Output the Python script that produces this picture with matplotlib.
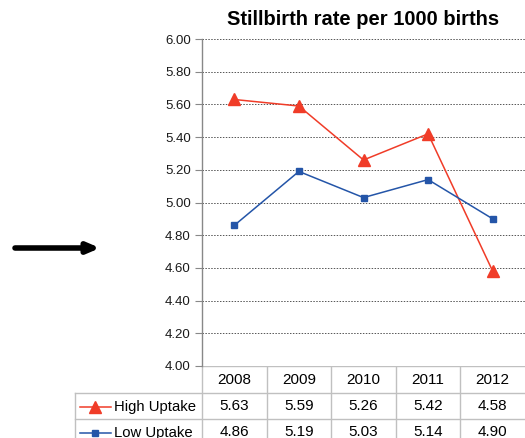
import matplotlib.pyplot as plt
from matplotlib import transforms

plt.rcParams["font.family"] = ["Liberation Sans", "DejaVu Sans"]

years = ["2008", "2009", "2010", "2011", "2012"]
high_uptake = [5.63, 5.59, 5.26, 5.42, 4.58]
low_uptake = [4.86, 5.19, 5.03, 5.14, 4.90]
y_ticks = [4.0, 4.2, 4.4, 4.6, 4.8, 5.0, 5.2, 5.4, 5.6, 5.8, 6.0]

red = "#f03c28"
blue = "#2455a8"
grid_col = "#c0c0c0"

W, H = 525, 438
fig = plt.figure(figsize=(5.25, 4.38), dpi=100)
fig.set_facecolor("white")

# overlay in pixel coords for table lines / arrow
ov = fig.add_axes([0, 0, 1, 1])
ov.set_xlim(0, W)
ov.set_ylim(H, 0)
ov.axis("off")

left, right, top, bottom = 202, 525, 39, 366
ax = fig.add_axes([left / W, (H - bottom) / H, (right - left) / W, (bottom - top) / H])

x = list(range(len(years)))
ax.plot(x, high_uptake, color=red, lw=1.1, marker="^", ms=9, zorder=5)
ax.plot(x, low_uptake, color=blue, lw=1.1, marker="s", ms=5, zorder=5)

ax.set_xlim(-0.5, len(years) - 0.5)
ax.set_ylim(4.0, 6.0)
ax.set_yticks(y_ticks)
ax.set_yticklabels([f"{v:.2f}" for v in y_ticks], fontsize=9.5, color="#1a1a1a")
ax.set_xticks([])
for v in y_ticks[1:]:
    ax.axhline(v, color="#555555", ls=(0, (1.5, 1.5)), lw=0.7, zorder=1)

for s in ["top", "right", "bottom"]:
    ax.spines[s].set_visible(False)
ax.spines["left"].set_color("#888888")
ax.spines["left"].set_linewidth(1.0)
ax.tick_params(axis="y", length=5, width=0.8, color="#888888", pad=3)

ax.set_title("Stillbirth rate per 1000 births", fontsize=14.5, fontweight="bold", pad=10, x=0.5)

# data table under the axes
tr = transforms.blended_transform_factory(ax.transData, ov.transData)
row_h = 27
rows_y = [bottom, bottom + row_h, bottom + 2 * row_h - 1, bottom + 3 * row_h]
label_left = 75

# horizontal lines
ov.plot([left, W], [bottom, bottom], color=grid_col, lw=1)
for yy in rows_y[1:3]:
    ov.plot([label_left, W], [yy, yy], color=grid_col, lw=1)
# vertical lines
for i in range(len(years)):
    xb = i - 0.5
    ov.plot([xb, xb], [bottom, H], color=grid_col, lw=1, transform=tr)
ov.plot([label_left, label_left], [rows_y[1], H], color=grid_col, lw=1)

fs = 11
for i, yr in enumerate(years):
    ov.text(i, bottom + row_h / 2 + 1, yr, transform=tr, ha="center", va="center", fontsize=fs)
    ov.text(i, rows_y[1] + row_h / 2, f"{high_uptake[i]:.2f}", transform=tr,
            ha="center", va="center", fontsize=fs)
    ov.text(i, rows_y[2] + row_h / 2, f"{low_uptake[i]:.2f}", transform=tr,
            ha="center", va="center", fontsize=fs)

# legend keys in table
ky1 = rows_y[1] + row_h / 2
ky2 = rows_y[2] + row_h / 2
ov.plot([80, 111], [ky1, ky1], color=red, lw=1.1)
ov.plot([95], [ky1], color=red, marker="^", ms=9)
ov.plot([80, 111], [ky2, ky2], color=blue, lw=1.1)
ov.plot([95], [ky2], color=blue, marker="s", ms=5)
ov.text(114, ky1, "High Uptake", ha="left", va="center", fontsize=10.7)
ov.text(114, ky2, "Low Uptake", ha="left", va="center", fontsize=10.7)

# arrow on the left
ov.annotate("", xy=(100, 248), xytext=(15, 248),
            arrowprops=dict(arrowstyle="-|>,head_width=0.3,head_length=0.7",
                            lw=4, color="black", shrinkA=0, shrinkB=0))

plt.savefig("out.png", dpi=100, facecolor="white")
